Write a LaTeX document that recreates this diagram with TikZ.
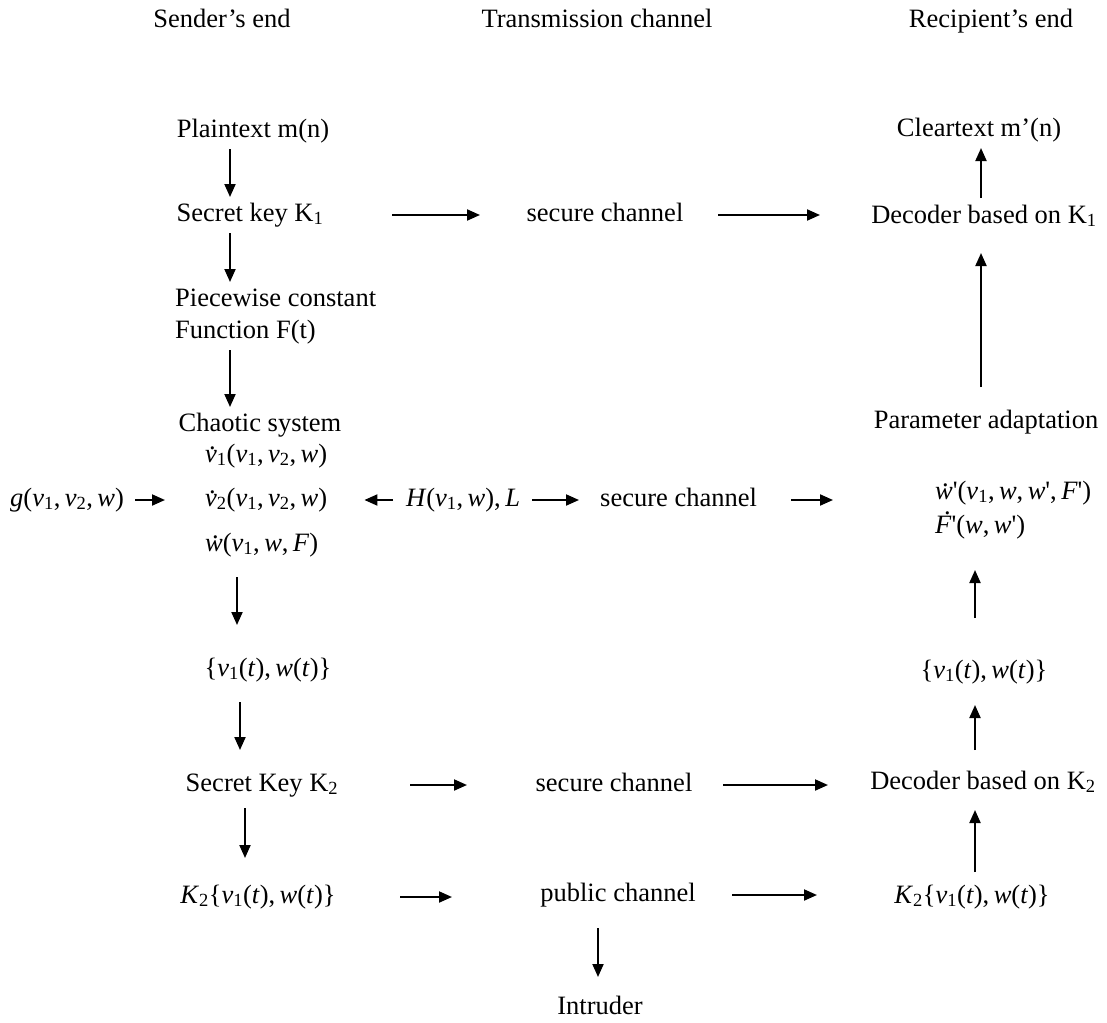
\documentclass[tikz,border=0pt]{standalone}
\usepackage{fontspec}
\setmainfont{Liberation Serif}
\usetikzlibrary{arrows.meta}
\newcommand\mi[1]{\textit{#1}}
\newcommand\sbs[1]{\textsubscript{#1}}
\newcommand\dotit[3]{\ooalign{\textit{#1}\cr\hidewidth\kern#2\raisebox{#3}{.}\hidewidth\cr}}
\newcommand\pr{\textquotesingle}
\begin{document}
\begin{tikzpicture}[x=1pt,y=-1pt,
  every node/.style={inner sep=0pt, font=\fontsize{26.5}{32}\selectfont, text height=19pt, text depth=7pt},
  arr/.style={line width=2pt, -{Triangle[length=13pt,width=11pt]}}]
\useasboundingbox (0,0) rectangle (1107,1022);
% column coordinates
\coordinate (cL1) at (230,0);
\coordinate (cL2) at (237,0);
\coordinate (cL3) at (240,0);
\coordinate (cL4) at (245,0);
\coordinate (cM) at (598,0);
\coordinate (cR1) at (981,0);
\coordinate (cR2) at (975,0);
% headers
\node (hs) at (222,22) {Sender’s end};
\node (ht) at (597,22) {Transmission channel};
\node (hr) at (991,22) {Recipient’s end};
% sender column
\node (pt) at (253,131) {Plaintext m(n)};
\node (sk1) at (250,215) {Secret key K\sbs{1}};
\node[anchor=west] (pw) at (175,300) {Piecewise constant};
\node[anchor=west] (fn) at (175,332) {Function F(t)};
\node (cs) at (260,425) {Chaotic system};
\node[anchor=west] (d1) at (205,456) {\dotit{v}{0.1em}{0.47em}\sbs{1}(\mi{v}\sbs{1},\,\mi{v}\sbs{2},\,\mi{w})};
\node[anchor=west] (d2) at (205,500) {\dotit{v}{0.1em}{0.47em}\sbs{2}(\mi{v}\sbs{1},\,\mi{v}\sbs{2},\,\mi{w})};
\node[anchor=west] (d3) at (205,545) {\dotit{w}{0.1em}{0.47em}(\mi{v}\sbs{1},\,\mi{w},\,\mi{F})};
\node[anchor=west] (g) at (10,500) {\mi{g}(\mi{v}\sbs{1},\,\mi{v}\sbs{2},\,\mi{w})};
\node (vl) at (268,670) {\{\mi{v}\sbs{1}(\mi{t}),\,\mi{w}(\mi{t})\}};
\node (sk2) at (262,785) {Secret Key K\sbs{2}};
\node (kl) at (258,897) {\mi{K}\sbs{2}\{\mi{v}\sbs{1}(\mi{t}),\,\mi{w}(\mi{t})\}};
% channel column
\node (sc1) at (605,215) {secure channel};
\node (H) at (463,500) {\mi{H}(\mi{v}\sbs{1},\,\mi{w}),\,\mi{L}};
\node[anchor=west] (sc2) at (600,500) {secure channel};
\node (sc3) at (614,785) {secure channel};
\node (pc) at (618,895) {public channel};
\node (in) at (600,1008) {Intruder};
% recipient column
\node (ct) at (979,130) {Cleartext m’(n)};
\node (dk1) at (984,217) {Decoder based on K\sbs{1}};
\node (pa) at (986,422) {Parameter adaptation};
\node[anchor=west] (wp) at (935,493) {\dotit{w}{0.1em}{0.47em}\pr(\mi{v}\sbs{1},\,\mi{w},\,\mi{w}\pr,\,\mi{F}\pr)};
\node[anchor=west] (fp) at (935,527) {\dotit{F}{0.3em}{0.7em}\pr(\mi{w},\,\mi{w}\pr)};
\node (vr) at (984,672) {\{\mi{v}\sbs{1}(\mi{t}),\,\mi{w}(\mi{t})\}};
\node (dk2) at (983,783) {Decoder based on K\sbs{2}};
\node (kr) at (972,897) {\mi{K}\sbs{2}\{\mi{v}\sbs{1}(\mi{t}),\,\mi{w}(\mi{t})\}};
% vertical arrows, sender side
\draw[arr, shorten <=18pt, shorten >=18pt] (pt -| cL1) -- (sk1 -| cL1);
\draw[arr, shorten <=18pt, shorten >=18pt] (sk1 -| cL1) -- (pw -| cL1);
\draw[arr, shorten <=18pt, shorten >=18pt] (fn -| cL1) -- (cs -| cL1);
\draw[arr, shorten <=32pt, shorten >=45pt] (d3 -| cL2) -- (vl -| cL2);
\draw[arr, shorten <=32pt, shorten >=35pt] (vl -| cL3) -- (sk2 -| cL3);
\draw[arr, shorten <=23pt, shorten >=39pt] (sk2 -| cL4) -- (kl -| cL4);
\draw[arr, shorten <=33pt, shorten >=31pt] (pc -| cM) -- (in -| cM);
% vertical arrows, recipient side
\draw[arr, shorten <=19pt, shorten >=18pt] (dk1 -| cR1) -- (ct -| cR1);
\draw[arr, shorten <=35pt, shorten >=36pt] (pa -| cR1) -- (dk1 -| cR1);
\draw[arr, shorten <=54pt, shorten >=43pt] (vr -| cR2) -- (fp -| cR2);
\draw[arr, shorten <=33pt, shorten >=33pt] (dk2 -| cR2) -- (vr -| cR2);
\draw[arr, shorten <=25pt, shorten >=27pt] (kr -| cR2) -- (dk2 -| cR2);
% horizontal arrows
\draw[arr, shorten <=142pt, shorten >=125pt] (sk1.center) -- (sc1.center);
\draw[arr, shorten <=113pt, shorten >=164pt] (sc1.center) -- (dk1 |- sc1);
\draw[arr, shorten <=11pt, shorten >=40pt] (g.east) -- (d2.west);
\draw[arr, shorten <=70pt, shorten >=37pt] (H.center) -- (d2.east);
\draw[arr, shorten <=69pt, shorten >=21pt] (H.center) -- (sc2.west);
\draw[arr, shorten <=34pt, shorten >=102pt] (sc2.east) -- (sc2 -| wp.west);
\draw[arr, shorten <=148pt, shorten >=147pt] (sk2.center) -- (sc3.center);
\draw[arr, shorten <=109pt, shorten >=155pt] (sc3.center) -- (sc3 -| dk2);
\draw[arr, shorten <=142pt, shorten >=166pt] (kl.center) -- (kl -| pc);
\draw[arr, shorten <=114pt, shorten >=155pt] (pc.center) -- (pc -| kr);
\end{tikzpicture}
\end{document}
